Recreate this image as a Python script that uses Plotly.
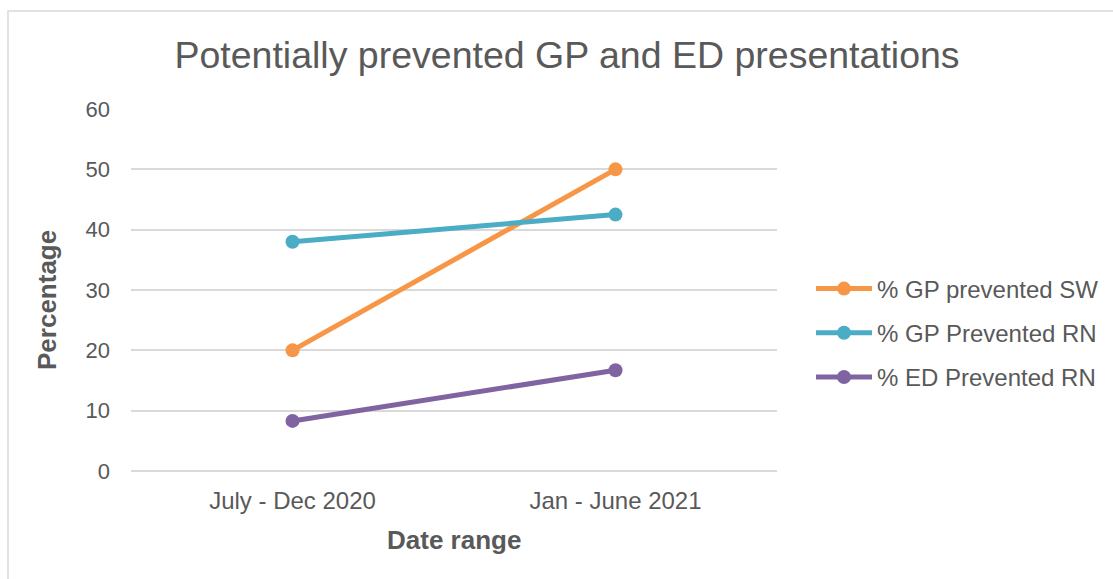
import plotly.graph_objects as go

categories = ["July - Dec 2020", "Jan - June 2021"]
series_names = ["% GP prevented SW", "% GP Prevented RN", "% ED Prevented RN"]
gp_sw = [20, 50]
gp_rn = [38, 42.5]
ed_rn = [8.3, 16.7]
colors = ["#F79646", "#4BACC6", "#8064A2"]
y_ticks = [0, 10, 20, 30, 40, 50, 60]

W, H = 1113, 579
L, R, T, B = 131, 336, 109, 108
pw, ph = W - L - R, H - T - B

def px_x(x):
    return (x - L) / pw

def px_y(y):
    return (H - B - y) / ph

FONT = "Liberation Sans, Arial, sans-serif"
TXT = "#595959"
GRID = "#d9d9d9"

fig = go.Figure()
for i, (name, vals) in enumerate(zip(series_names, [gp_sw, gp_rn, ed_rn])):
    fig.add_trace(go.Scatter(
        x=categories, y=vals, name=name, mode="lines+markers",
        line=dict(color=colors[i], width=5),
        marker=dict(color=colors[i], size=14),
        legendgroup=f"g{i}",
    ))

fig.update_layout(
    width=W, height=H,
    margin=dict(l=L, r=R, t=T, b=B, autoexpand=False),
    paper_bgcolor="white", plot_bgcolor="white",
    font=dict(family=FONT, color=TXT, size=22),
    title=dict(text="Potentially prevented GP and ED presentations",
               xref="container", yref="container",
               x=567 / W, y=1 - 55 / H, xanchor="center", yanchor="middle",
               font=dict(size=37.5, color=TXT, family=FONT)),
    showlegend=True,
    legend=dict(x=px_x(811), y=px_y(333), xanchor="left", yanchor="middle",
                font=dict(size=24, color=TXT), itemwidth=56,
                tracegroupgap=10, bgcolor="rgba(0,0,0,0)"),
    xaxis=dict(type="category", range=[-0.5, 1.5], showgrid=False,
               showline=False, zeroline=False, ticks="",
               ticklabelstandoff=13, tickfont=dict(size=24, color=TXT)),
    yaxis=dict(range=[0, 60], tickvals=y_ticks, showgrid=True,
               gridcolor=GRID, gridwidth=1.5, zeroline=True,
               zerolinecolor=GRID, zerolinewidth=1.5,
               showline=False, ticks="", ticklabelstandoff=20,
               tickfont=dict(size=22, color=TXT)),
    annotations=[
        dict(text="<b>Date range</b>", xref="paper", yref="paper",
             x=px_x(454), y=px_y(540), xanchor="center", yanchor="middle",
             showarrow=False, font=dict(size=26, color=TXT, family=FONT)),
        dict(text="<b>Percentage</b>", xref="paper", yref="paper",
             x=px_x(47), y=px_y(300), xanchor="center", yanchor="middle",
             textangle=-90, showarrow=False,
             font=dict(size=26, color=TXT, family=FONT)),
    ],
    shapes=[dict(type="rect", xref="paper", yref="paper",
                 x0=px_x(8), x1=px_x(1200), y0=px_y(700), y1=px_y(11),
                 line=dict(color=GRID, width=1.5), layer="below")],
)

fig.write_html("out.html")
